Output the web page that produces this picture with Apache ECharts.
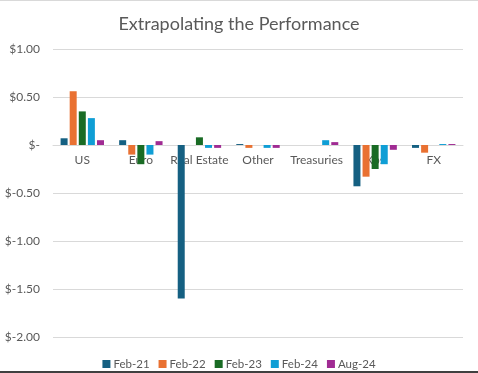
<!DOCTYPE html>
<html>
<head>
<meta charset="utf-8">
<script src="https://cdn.jsdelivr.net/npm/echarts@6/dist/echarts.min.js"></script>
<style>
html,body{margin:0;padding:0;background:#fff;}
#chart{width:478px;height:373px;}
</style>
</head>
<body>
<div id="chart"></div>
<script>
const categories = ['US', 'Euro', 'Real Estate', 'Other', 'Treasuries', 'Xps', 'FX'];
const feb21 = [0.07, 0.05, -1.60, 0.01, 0, -0.43, -0.03];
const feb22 = [0.56, -0.10, 0, -0.03, 0, -0.33, -0.08];
const feb23 = [0.35, -0.20, 0.08, 0, 0, -0.25, 0];
const feb24 = [0.28, -0.10, -0.03, -0.03, 0.05, -0.20, 0.01];
const aug24 = [0.05, 0.04, -0.03, -0.03, 0.03, -0.05, 0.01];
const seriesNames = ['Feb-21', 'Feb-22', 'Feb-23', 'Feb-24', 'Aug-24'];
const seriesValues = [feb21, feb22, feb23, feb24, aug24];
const colors = ['#156082', '#E97132', '#196B24', '#0F9ED5', '#A02B93'];

function fmt(v) {
  if (Math.abs(v) < 1e-9) return '$-';
  return '$' + v.toFixed(2);
}

const FONT = 'Lato';
const chart = echarts.init(document.getElementById('chart'), null, {renderer: 'canvas'});
chart.setOption({
  animation: false,
  backgroundColor: '#ffffff',
  color: colors,
  title: {
    text: 'Extrapolating the Performance',
    left: 'center',
    top: 10,
    textStyle: {fontFamily: FONT, fontSize: 18, fontWeight: 'normal', color: '#595959'}
  },
  legend: {
    bottom: 3,
    left: 'center',
    padding: 0,
    itemWidth: 8,
    itemHeight: 8,
    itemGap: 9,
    icon: 'rect',
    textStyle: {fontFamily: FONT, fontSize: 11.5, color: '#595959', padding: [0, 0, 0, -2]},
    data: seriesNames
  },
  grid: {left: 53, right: 15, top: 49, bottom: 36, containLabel: false},
  xAxis: {
    type: 'category',
    data: categories,
    offset: -192,
    axisLine: {onZero: false, lineStyle: {color: '#d9d9d9', width: 1}},
    axisTick: {show: false},
    axisLabel: {fontFamily: FONT, fontSize: 12, color: '#595959', margin: 9, interval: 0, hideOverlap: false}
  },
  yAxis: {
    type: 'value',
    min: -2,
    max: 1,
    interval: 0.5,
    axisLine: {show: false},
    axisTick: {show: false},
    splitLine: {lineStyle: {color: '#d9d9d9', width: 1}},
    axisLabel: {fontFamily: FONT, fontSize: 12, color: '#595959', margin: 13, formatter: fmt}
  },
  series: seriesNames.map((n, i) => ({
    name: n,
    type: 'bar',
    data: seriesValues[i],
    barWidth: 7,
    barGap: '30%',
    z: 3,
    itemStyle: {color: colors[i]}
  })),
  graphic: [
    {type: 'rect', shape: {x: 0, y: 0, width: 478, height: 1}, style: {fill: '#d9d9d9'}},
    {type: 'rect', shape: {x: 0, y: 371, width: 478, height: 2}, style: {fill: '#404040'}}
  ]
});
</script>
</body>
</html>
